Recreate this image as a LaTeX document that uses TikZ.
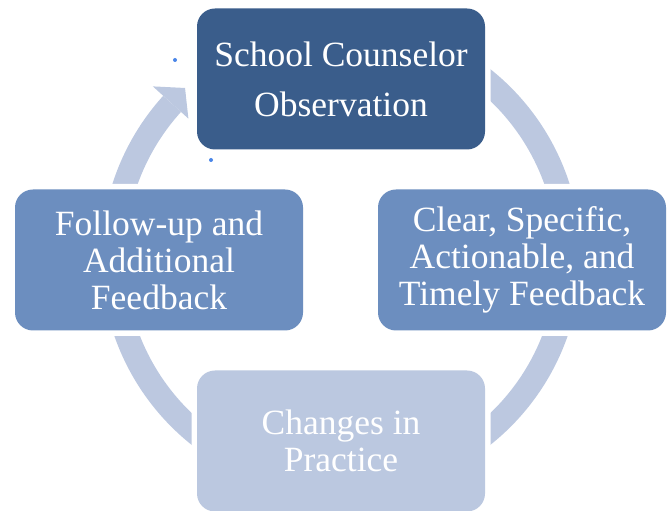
\documentclass[tikz,border=0pt]{standalone}
\usepackage{fontspec}
\setmainfont{Liberation Serif}
\usetikzlibrary{calc}
\definecolor{darkbox}{HTML}{3A5D8B}
\definecolor{midbox}{HTML}{6C8EBF}
\definecolor{lightbox}{HTML}{BBC8E0}
\definecolor{ringc}{HTML}{BCC8E0}
\definecolor{dotc}{HTML}{4A86E8}
\begin{document}
\begin{tikzpicture}[x=1pt,y=1pt,
  box/.style={rounded corners=18pt, minimum width=288pt, minimum height=141pt,
    inner sep=0pt, text=white, align=center,
    font=\fontsize{35.5}{37}\selectfont,
    preaction={draw=white, line width=11pt}},
  ringarc/.style={draw=ringc, line width=24pt}]
\useasboundingbox (0,0) rectangle (672,511);
\coordinate (c) at (341,254);
% ring arcs
\draw[ringarc] (c) ++(80:228) arc[start angle=80, end angle=10, radius=228];
\draw[ringarc] (c) ++(-10:228) arc[start angle=-10, end angle=-80, radius=228];
\draw[ringarc] (c) ++(-100:228) arc[start angle=-100, end angle=-170, radius=228];
\draw[ringarc] (c) ++(170:228) arc[start angle=170, end angle=137.8, radius=228];
\fill[ringc] ($(c)+(137.8:254)$) -- ($(c)+(132.7:230)$) -- ($(c)+(137.8:206)$) -- cycle;
% boxes
\node[box, fill=darkbox, font=\fontsize{35.5}{50}\selectfont] (top) at (341,432) {School Counselor\\Observation};
\node[box, fill=midbox] (right) at (522,251) {Clear, Specific,\\Actionable, and\\Timely Feedback};
\node[box, fill=lightbox] (bottom) at (341,70) {Changes in\\Practice};
\node[box, fill=midbox] (left) at (159,251) {Follow-up and\\Additional\\Feedback};
% small dots
\fill[dotc] (175,451) circle[radius=2];
\fill[dotc] (211,351) circle[radius=2];
\end{tikzpicture}
\end{document}
